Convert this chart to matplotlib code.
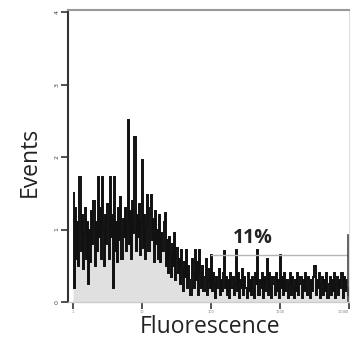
import numpy as np
import matplotlib
matplotlib.use("Agg")
import matplotlib.pyplot as plt

# Histogram counts (arbitrary units, y ticks 0..4), 256 log-spaced channels from 10^0 to 10^4
counts = [
    1.50, 0.20, 1.30, 0.60, 1.10, 0.50, 1.72, 0.70, 1.20, 0.45, 0.95, 1.30, 0.60, 1.10, 0.25, 1.00,
    0.55, 1.25, 0.80, 1.40, 0.50, 1.10, 0.70, 1.72, 0.90, 1.30, 0.60, 1.72, 1.00, 0.50, 1.20, 0.80,
    1.35, 0.60, 1.72, 0.90, 1.20, 0.20, 1.72, 0.70, 1.10, 0.55, 1.30, 0.85, 1.45, 0.60, 1.15, 0.90,
    1.30, 0.70, 1.10, 2.51, 0.80, 1.25, 0.60, 1.40, 0.95, 2.28, 0.70, 1.20, 0.90, 1.35, 0.65, 1.10,
    1.96, 0.75, 1.20, 0.60, 1.05, 1.48, 0.70, 1.30, 1.48, 0.85, 1.15, 0.55, 1.25, 0.80, 1.00, 0.60,
    1.20, 0.55, 0.95, 0.70, 1.10, 1.23, 0.50, 0.85, 0.40, 0.90, 0.65, 0.35, 0.80, 0.50, 0.95, 0.30,
    0.75, 0.40, 0.60, 0.25, 0.72, 0.45, 0.15, 0.55, 0.35, 0.72, 0.20, 0.50, 0.30, 0.10, 0.60, 0.40,
    0.20, 0.72, 0.30, 0.55, 0.10, 0.72, 0.40, 0.20, 0.50, 0.15, 0.35, 0.60, 0.10, 0.30, 0.45, 0.20,
    0.65, 0.15, 0.40, 0.25, 0.05, 0.35, 0.20, 0.45, 0.10, 0.30, 0.15, 0.40, 0.70, 0.20, 0.35, 0.10,
    0.30, 0.05, 0.40, 0.20, 0.35, 0.10, 0.25, 0.72, 0.15, 0.40, 0.05, 0.30, 0.20, 0.45, 0.10, 0.35,
    0.20, 0.05, 0.40, 0.15, 0.30, 0.10, 0.35, 0.20, 0.05, 0.40, 0.25, 0.72, 0.10, 0.30, 0.20, 0.40,
    0.05, 0.35, 0.15, 0.30, 0.60, 0.10, 0.40, 0.20, 0.05, 0.35, 0.25, 0.10, 0.40, 0.15, 0.30, 0.05,
    0.65, 0.20, 0.35, 0.10, 0.40, 0.15, 0.30, 0.05, 0.25, 0.40, 0.10, 0.35, 0.20, 0.05, 0.30, 0.15,
    0.40, 0.10, 0.25, 0.35, 0.05, 0.30, 0.15, 0.40, 0.20, 0.10, 0.35, 0.25, 0.05, 0.30, 0.15, 0.35,
    0.50, 0.10, 0.30, 0.20, 0.40, 0.05, 0.25, 0.35, 0.10, 0.30, 0.15, 0.40, 0.05, 0.25, 0.35, 0.10,
    0.30, 0.15, 0.40, 0.05, 0.25, 0.35, 0.10, 0.30, 0.20, 0.40, 0.05, 0.35, 0.15, 0.30, 0.20, 0.10,
]
x_ticks = [1, 10, 100, 1000, 10000]
x_tick_labels = ["1", "10", "100", "1000", "10000"]
y_ticks = [0, 1, 2, 3, 4]
y_tick_labels = ["0", "1", "2", "3", "4"]
gate_range = (100, 9800)
gate_level = 0.65
gate_label = "11%"

edges = np.logspace(0, 4, len(counts) + 1)

fig = plt.figure(figsize=(3.52, 3.46), dpi=100)
ax = fig.add_axes([68/352, 1 - 302/346, (349-68)/352, (302-10)/346])

ax.fill_between(edges, np.append(counts, counts[-1]), step="post", color="#e0e0e0", lw=0)
ax.plot(gate_range, [gate_level, gate_level], color="#b5b5b5", lw=1.0)
ax.stairs(counts, edges, color="#111111", lw=1.4, baseline=None)
ax.plot([gate_range[1], gate_range[1]], [0, 0.92], color="#444444", lw=1.2)
ax.text(405, 0.88, gate_label, ha="center", va="center",
        fontsize=14, fontweight="bold", color="#222222", family="Open Sans")

ax.set_xscale("log")
ax.set_xlim(10**-0.072, 10**4.0)
ax.set_ylim(0, 4.03)
ax.set_xticks(x_ticks)
ax.set_xticklabels(x_tick_labels, fontsize=2.5, color="#777777")
ax.get_xticklabels()[-1].set_horizontalalignment("right")
ax.minorticks_off()
ax.set_yticks(y_ticks)
ax.set_yticklabels(y_tick_labels, fontsize=4.5, rotation=90, va="center", color="#444444")
ax.tick_params(axis="both", direction="out", length=5, width=1.2, color="#333333", pad=1)

ax.spines["left"].set_color("#333333")
ax.spines["left"].set_linewidth(1.5)
ax.spines["top"].set_color("#999999")
ax.spines["top"].set_linewidth(1.5)
ax.spines["right"].set_color("#dddddd")
ax.spines["right"].set_linewidth(0.8)
ax.spines["bottom"].set_color("#cccccc")
ax.spines["bottom"].set_linewidth(1.0)

fig.text(210/352, 1 - 327/346, "Fluorescence", ha="center", va="center",
         fontsize=16.5, family="Open Sans", color="#222222")
fig.text(30/352, 1 - 162/346, "Events", ha="center", va="center", rotation=90,
         fontsize=16.5, family="Open Sans", color="#222222")

fig.savefig("out.png", dpi=100, facecolor="white")
